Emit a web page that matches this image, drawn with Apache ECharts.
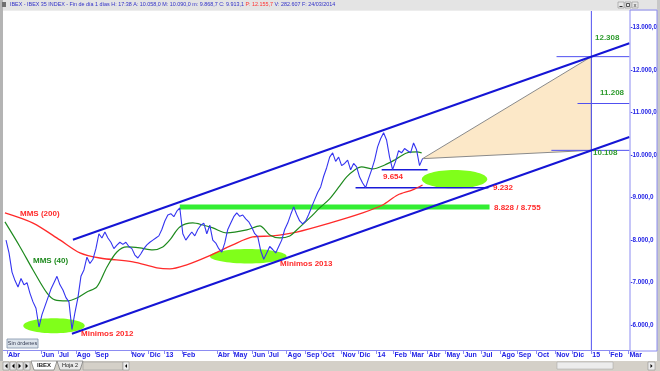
<!DOCTYPE html>
<html><head><meta charset="utf-8">
<script src="https://cdn.jsdelivr.net/npm/echarts@6/dist/echarts.min.js"></script>
<style>html,body{margin:0;padding:0;background:#fff}#c{width:660px;height:371px}</style>
</head><body><div id="c"></div>
<script>
// x unit: months, 0 = Abr 2012 ... 35 = Mar 2015
const tickLabels = ['Abr','Jun','Jul','Ago','Sep','Nov','Dic','13','Feb','Abr','May','Jun','Jul','Ago','Sep','Oct','Nov','Dic','14','Feb','Mar','Abr','May','Jun','Jul','Ago','Sep','Oct','Nov','Dic','15','Feb','Mar'];
const tickMonths = [0.07,1.98,2.94,3.95,5.02,7.04,8.05,8.95,9.91,11.88,12.78,13.85,14.75,15.81,16.88,17.78,18.9,19.86,20.87,21.83,22.78,23.74,24.75,25.76,26.77,27.84,28.8,29.87,30.93,31.89,32.96,33.97,35.05];
const yTicks = [6000,7000,8000,9000,10000,11000,12000,13000];

// IBEX close, sampled evenly from priceFirstMonth to priceLastMonth
const priceFirstMonth = 0.02, priceLastMonth = 23.46;
const price = [8000,7700,7250,7050,6900,7100,6950,7000,6750,6550,
6400,5960,6250,6450,6650,6850,7000,7150,6950,6830,
6650,6550,5900,6300,6650,7150,7300,7600,7450,7550,
7800,8150,8050,8190,8050,7950,7800,7880,7950,7900,
7950,7850,7800,7650,7580,7680,7800,7890,7950,8000,
8050,8100,8250,8450,8590,8620,8550,8680,8755,8150,
8000,8100,8190,8100,8250,8350,8400,8150,8350,8000,
7930,7800,7720,7935,8250,8400,8550,8640,8560,8590,
8500,8430,8300,8150,8080,7750,7550,7700,7850,7780,
7700,7850,8000,8250,8400,8600,8780,8600,8450,8380,
8450,8600,8780,8950,9120,9250,9500,9700,9950,10050,
9850,9950,9750,9800,9880,9650,9800,9720,9480,9340,
9232,9450,9650,9880,10190,10380,10520,10350,9950,9654,
9850,10100,10050,10150,10100,10050,10280,10120,9750,9913];

const mms40 = [[-0.04,8427],[0.81,7840],[1.54,7300],[2.32,6760],[2.77,6596],[3.45,6572],[4.01,6642],[4.57,6783],[5.13,6901],[5.7,7370],[6.26,7722],[6.82,7840],[7.55,7816],[8.28,7769],[8.84,7840],[9.24,8004],[9.8,8309],[10.53,8403],[11.09,8356],[11.66,8286],[12.44,8169],[13.57,8239],[14.3,8333],[14.86,8122],[15.42,8051],[15.99,8098],[16.38,8239],[17.11,8521],[17.67,8756],[18.23,8967],[18.8,9272],[19.19,9483],[19.64,9648],[20.03,9718],[20.65,9671],[21.33,9765],[21.89,9883],[22.57,10047],[23.13,10070],[23.41,10047]];
const mms200 = [[-0.04,8640],[1.54,8400],[3.05,8005],[4.18,7700],[5.3,7580],[7.16,7490],[8.51,7350],[9.24,7325],[10.19,7420],[11.32,7605],[12.78,7890],[13.9,8075],[15.03,8100],[16.38,8190],[18.23,8400],[20.09,8640],[21.21,8825],[22.06,9060],[22.9,9180],[23.46,9295]];

const channelUpper = [[3.785,8008],[35.1,12623]];
const channelLower = [[3.73,5800],[35.1,10423]];
const resistance = [[9.8,8775],[27.23,8775]];
const support9654 = [[21.16,9654],[23.74,9654]];
const support9232 = [[19.69,9232],[27.17,9232]];
const level12308 = [[31.0,12308],[35.1,12308]];
const level11208 = [[32.18,11208],[35.1,11208]];
const level10108 = [[30.71,10108],[35.1,10108]];
const target2015 = [[32.96,5420],[32.96,13380]];
const projection = [[23.46,9913],[32.96,12308],[32.96,10108]];
// [centre month, centre value, radius months, radius value]
const zones = [[2.72,5990,1.73,176],[13.65,7622,2.16,170],[25.26,9432,1.84,216]];

const priceData = price.map((v,i)=>[priceFirstMonth + i*(priceLastMonth-priceFirstMonth)/(price.length-1), v]);

function fmtY(v){ return '-' + String(Math.round(v)).replace(/\B(?=(\d{3})+(?!\d))/g,'.') + ',0'; }
function fmtX(v){ const k = tickMonths.findIndex(t=>Math.abs(t-v)<1e-6); return k>=0 ? tickLabels[k] : ''; }

const FF = '"Liberation Sans", Arial, sans-serif';
const AXC = '#8c8cf2';
const BLUE = '#3434f0';

function seg(data, color, width, z){
  return {type:'line', data, symbol:'none', silent:true, z: z||3, lineStyle:{color, width}, animation:false};
}
function txt(x,y,text,color,size,extra){
  return Object.assign({type:'text', z:100, style:{x,y,text,fill:color,fontSize:size||8,fontWeight:'bold',fontFamily:FF,verticalAlign:'middle',align:'left'}}, extra||{});
}

const chart = echarts.init(document.getElementById('c'), null, {renderer:'canvas'});
chart.setOption({
  animation:false,
  backgroundColor:'#ffffff',
  grid:{left:3,right:30,top:11,bottom:21},
  xAxis:{type:'value',min:-0.15,max:35.1,
    axisLine:{show:true,lineStyle:{color:AXC,width:1}},
    axisTick:{show:true,customValues:tickMonths,length:4,lineStyle:{color:AXC}},
    axisLabel:{customValues:tickMonths,formatter:fmtX,color:'#2222e6',fontSize:7,fontWeight:'bold',fontFamily:FF,align:'left',margin:2,padding:[0,0,0,1]},
    splitLine:{show:false},minorTick:{show:false},minorSplitLine:{show:false}},
  yAxis:{type:'value',position:'right',min:5420,max:13380,
    axisLine:{show:true,lineStyle:{color:AXC}},
    axisTick:{show:false},
    axisLabel:{customValues:yTicks,formatter:fmtY,color:'#2222e6',fontSize:6.3,fontWeight:'bold',fontFamily:FF,margin:1},
    splitLine:{show:false},splitArea:{show:false},minorTick:{show:false},minorSplitLine:{show:false}},
  series:[
    {type:'custom',silent:true,z:1,data:[projection[0]],renderItem:(p,api)=>({type:'polygon',shape:{points:projection.map(q=>api.coord(q))},style:{fill:'#fce8c8',stroke:'#8a8a8a',lineWidth:1}})},
    {type:'custom',silent:true,z:2,data:zones,renderItem:(p,api)=>{
      const c = api.coord([api.value(0),api.value(1)]);
      const e = api.coord([api.value(0)+api.value(2),api.value(1)+api.value(3)]);
      return {type:'ellipse',shape:{cx:c[0],cy:c[1],rx:e[0]-c[0],ry:c[1]-e[1]},style:{fill:'#80ff1a'}};
    }},
    seg(resistance,'#33ee33',5,2),
    seg(target2015,'#5050f0',1,3),
    seg(level12308,'#5050f0',1,3),
    seg(level11208,'#5050f0',1,3),
    seg(level10108,'#5050f0',1,3),
    seg(support9654,'#1a1ad8',1.5,3),
    seg(support9232,'#1a1ad8',1.5,3),
    {type:'line',data:mms200,symbol:'none',smooth:0.3,z:4,lineStyle:{color:'#ff2a2a',width:1.3}},
    {type:'line',data:mms40,symbol:'none',smooth:0.3,z:4,lineStyle:{color:'#1e8a1e',width:1.2}},
    {type:'line',data:priceData,symbol:'none',z:5,lineStyle:{color:BLUE,width:1.1}},
    seg(channelUpper,'#1515d5',2,6),
    seg(channelLower,'#1515d5',2,6)
  ],
  graphic:[
    {type:'rect',z:1,shape:{x:3,y:11,width:5,height:339},style:{fill:'#ffffff'}},
    {type:'rect',z:90,shape:{x:0,y:0,width:660,height:10},style:{fill:'#e4e4e4'}},
    {type:'rect',z:90,shape:{x:3,y:10,width:654,height:1},style:{fill:'#ededed'}},
    {type:'rect',z:90,shape:{x:0,y:0,width:3,height:371},style:{fill:'#b4b4b4'}},
    {type:'rect',z:90,shape:{x:657,y:0,width:3,height:371},style:{fill:'#c8c8c8'}},
    {type:'rect',z:91,shape:{x:2,y:2,width:4,height:5},style:{fill:'#707070'}},
    {type:'text',z:100,style:{x:10,y:5,verticalAlign:'middle',text:'{a|IBEX - IBEX 35 INDEX - Fin de día 1 días H: 17:38 A: 10.058,0 M: 10.090,0 m: 9.868,7 C: 9.913,1 }{b|P: 12.155,7}{a| V: 282.607 F: 24/03/2014}',
      rich:{a:{fill:'#3030c8',fontSize:5.4,fontFamily:FF},b:{fill:'#ff3030',fontSize:5.4,fontFamily:FF}}}},
    {type:'rect',z:91,shape:{x:618,y:2,width:6,height:6},style:{fill:'#e8e8e8',stroke:'#909090',lineWidth:0.6}},
    {type:'rect',z:91,shape:{x:625,y:2,width:6,height:6},style:{fill:'#e8e8e8',stroke:'#909090',lineWidth:0.6}},
    {type:'rect',z:91,shape:{x:632,y:2,width:6,height:6},style:{fill:'#e8e8e8',stroke:'#909090',lineWidth:0.6}},
    {type:'rect',z:92,shape:{x:619.5,y:6,width:3,height:1},style:{fill:'#303030'}},
    {type:'rect',z:92,shape:{x:626.5,y:3.5,width:3,height:3},style:{fill:'none',stroke:'#303030',lineWidth:0.8}},
    {type:'text',z:92,style:{x:635,y:5,text:'x',fill:'#303030',fontSize:6,fontFamily:FF,align:'center',verticalAlign:'middle'}},
    {type:'rect',z:95,shape:{x:630,y:10,width:27,height:341},style:{fill:'none',stroke:AXC,lineWidth:1}},
    // annotations
    txt(20,214,'MMS (200)','#ff2a2a'),
    txt(33,261,'MMS (40)','#1e8a1e'),
    txt(81,334,'Minimos 2012','#ff2a2a'),
    txt(280,264,'Minimos 2013','#ff2a2a'),
    txt(383,177,'9.654','#ff2a2a'),
    txt(493,188,'9.232','#ff2a2a'),
    txt(494,208,'8.828 / 8.755','#ff2a2a'),
    txt(595,38,'12.308','#2e9b2e'),
    txt(600,93,'11.208','#2e9b2e'),
    txt(593,153,'10.108','#2e9b2e'),
    {type:'rect',z:96,shape:{x:7,y:339,width:31,height:9},style:{fill:'#dde4ec',stroke:'#7f8fa8',lineWidth:0.8}},
    {type:'text',z:97,style:{x:22.5,y:343.5,text:'Sin órdenes',fill:'#303850',fontSize:5.5,fontFamily:FF,align:'center',verticalAlign:'middle'}},
    // bottom tab bar
    {type:'rect',z:90,shape:{x:0,y:361,width:660,height:10},style:{fill:'#d4d0c8'}},
    {type:'rect',z:91,shape:{x:3,y:362,width:6,height:8},style:{fill:'#e6e6e6',stroke:'#808080',lineWidth:0.5}},
    {type:'rect',z:91,shape:{x:10,y:362,width:6,height:8},style:{fill:'#e6e6e6',stroke:'#808080',lineWidth:0.5}},
    {type:'rect',z:91,shape:{x:17,y:362,width:6,height:8},style:{fill:'#e6e6e6',stroke:'#808080',lineWidth:0.5}},
    {type:'rect',z:91,shape:{x:24,y:362,width:6,height:8},style:{fill:'#e6e6e6',stroke:'#808080',lineWidth:0.5}},
    {type:'polygon',z:92,shape:{points:[[7.5,363.5],[7.5,368.5],[5,366]]},style:{fill:'#000'}},
    {type:'polygon',z:92,shape:{points:[[14.5,363.5],[14.5,368.5],[12,366]]},style:{fill:'#000'}},
    {type:'polygon',z:92,shape:{points:[[18.5,363.5],[18.5,368.5],[21,366]]},style:{fill:'#000'}},
    {type:'polygon',z:92,shape:{points:[[25.5,363.5],[25.5,368.5],[28,366]]},style:{fill:'#000'}},
    {type:'polygon',z:91,shape:{points:[[31,361],[34,370],[54,370],[57,361]]},style:{fill:'#ffffff',stroke:'#606060',lineWidth:0.6}},
    {type:'text',z:92,style:{x:44,y:365.5,text:'IBEX',fill:'#202020',fontSize:6,fontWeight:'bold',fontFamily:FF,align:'center',verticalAlign:'middle'}},
    {type:'polygon',z:91,shape:{points:[[57,361],[60,370],[80,370],[83,361]]},style:{fill:'#e8e8e8',stroke:'#606060',lineWidth:0.6}},
    {type:'text',z:92,style:{x:70,y:365.5,text:'Hoja 2',fill:'#202020',fontSize:5.5,fontFamily:FF,align:'center',verticalAlign:'middle'}},
    {type:'rect',z:91,shape:{x:83,y:362,width:40,height:8},style:{fill:'#d4d0c8',stroke:'#909090',lineWidth:0.5}},
    {type:'rect',z:91,shape:{x:123,y:362,width:6,height:8},style:{fill:'#ececec',stroke:'#808080',lineWidth:0.5}},
    {type:'polygon',z:92,shape:{points:[[127,364],[127,368],[125,366]]},style:{fill:'#000'}},
    {type:'rect',z:91,shape:{x:557,y:362,width:56,height:7},style:{fill:'#ececec',stroke:'#a0a0a0',lineWidth:0.5}},
    {type:'rect',z:91,shape:{x:648,y:362,width:7,height:8},style:{fill:'#ececec',stroke:'#808080',lineWidth:0.5}},
    {type:'polygon',z:92,shape:{points:[[650.5,364],[650.5,368],[652.5,366]]},style:{fill:'#000'}}
  ]
});
</script></body></html>
